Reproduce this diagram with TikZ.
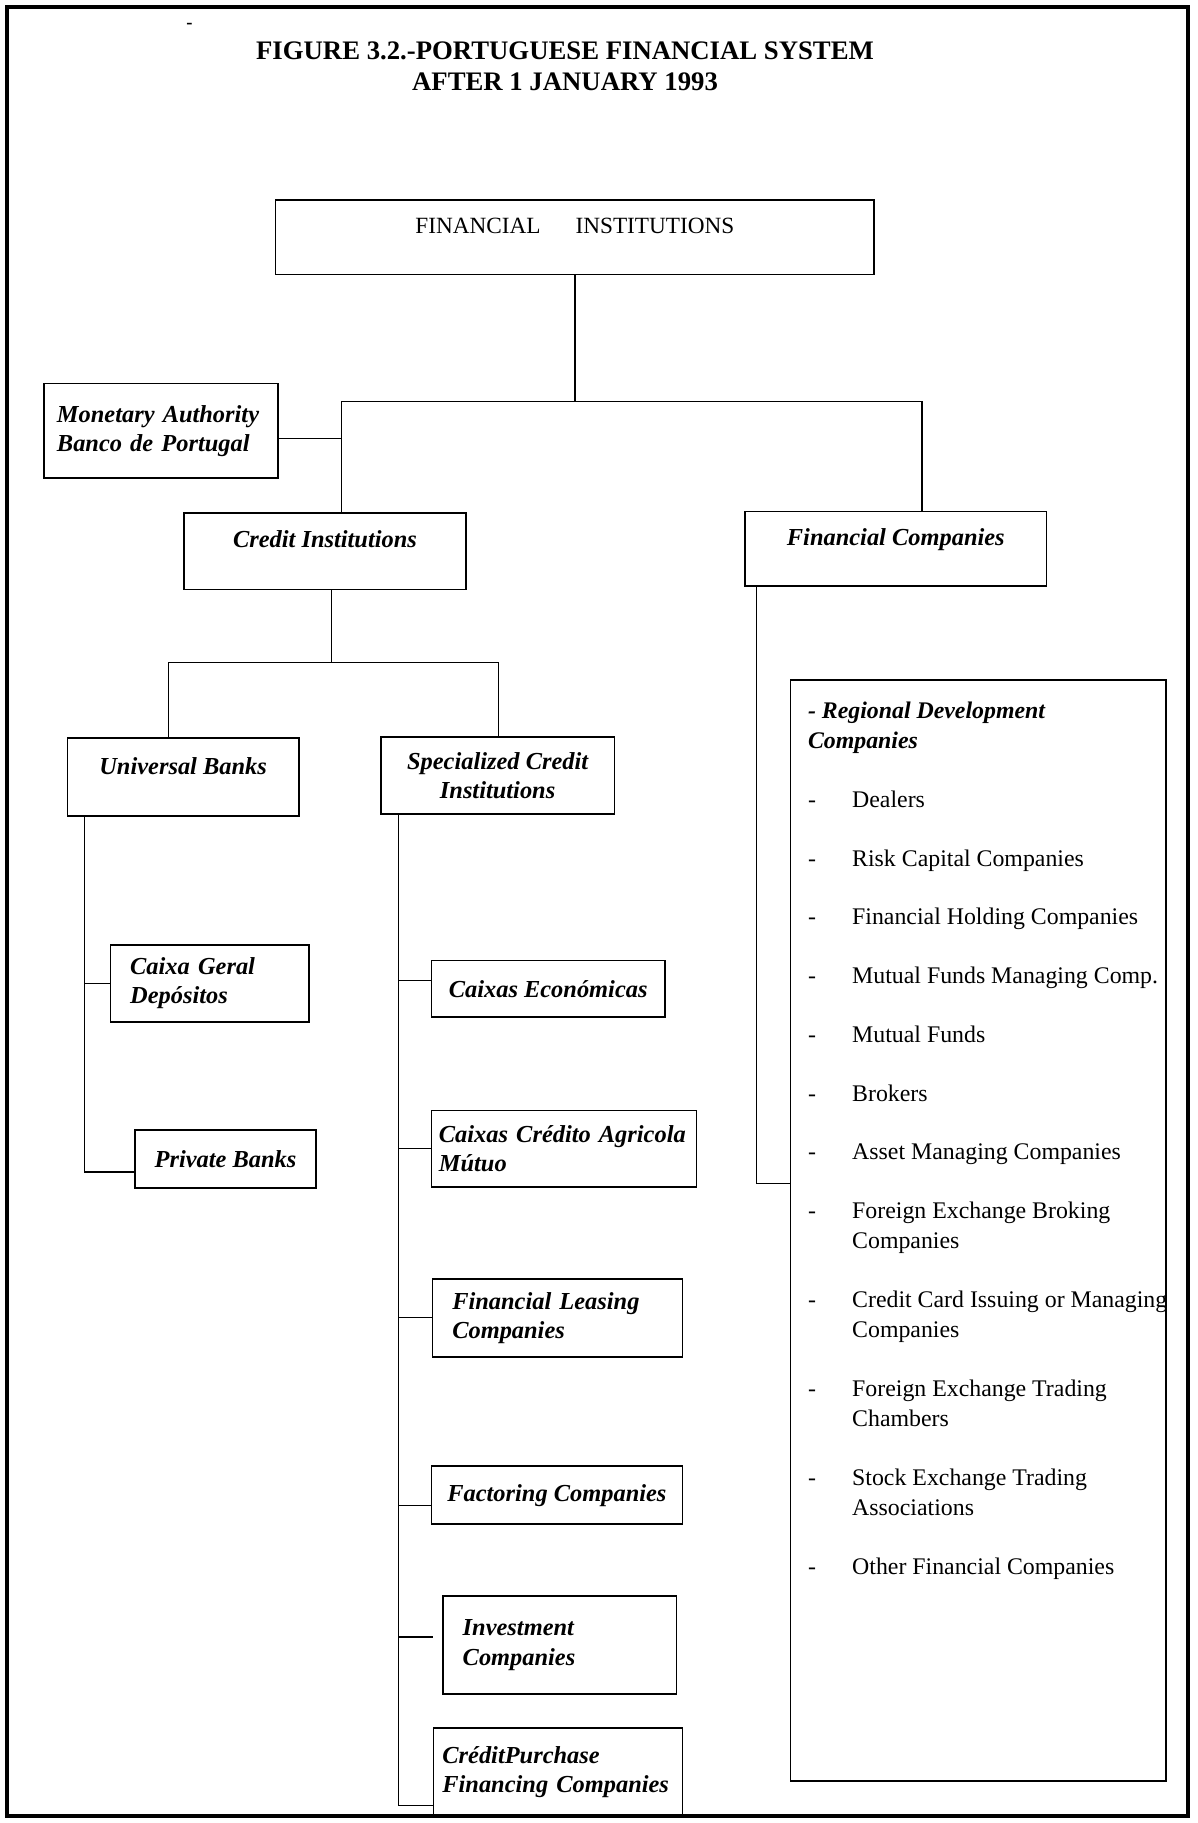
\documentclass[tikz,border=0pt]{standalone}
\usepackage{fontspec}
\setmainfont{Liberation Serif}

\begin{document}
\begin{tikzpicture}[
    x=0.5pt, y=-0.5pt,
    outer/.style={draw, line width=1.6pt},
    box/.style={draw, line width=0.7pt, inner sep=3pt, font=\fontsize{10.5}{12.5}\selectfont\bfseries\itshape},
    cbox/.style 2 args={box, align=center, minimum width=#1, minimum height=#2},
    lbox/.style n args={3}{box, align=left, text width=#1, inner xsep=#2, minimum height=#3},
    upper/.style={text depth=10pt},
    link/.style={line width=0.5pt}
]
\useasboundingbox (0,0) rectangle (1030,1568);
\draw[outer] (6,6) rectangle (1022,1562);

\node[font=\fontsize{8}{9}\selectfont\bfseries] (mark) at (163,22) {-};
\node[align=center, font=\fontsize{11.5}{13}\selectfont\bfseries] (title) at (486,57) {FIGURE 3.2.-PORTUGUESE FINANCIAL SYSTEM\\AFTER 1 JANUARY 1993};

\node[cbox={257.5pt}{32pt}, upper, font=\fontsize{10}{12}\selectfont] (fi) at (494.5,204) {FINANCIAL\hspace{1.5em}INSTITUTIONS};
\node[lbox={89.5pt}{5.5pt}{40.5pt}] (ma) at (138.5,370.5) {Monetary Authority\\Banco de Portugal};
\node[cbox={121.5pt}{33pt}, upper] (ci) at (279.5,474) {Credit Institutions};
\node[cbox={129.5pt}{32pt}, upper] (fc) at (770.5,472) {Financial Companies};

\node[cbox={99.5pt}{33.5pt}, upper] (ub) at (157.5,668.5) {Universal Banks};
\node[cbox={100.5pt}{33pt}] (sc) at (428,667) {Specialized Credit\\Institutions};

\node[lbox={68.5pt}{8.5pt}{33pt}] (cg) at (180.5,846) {Caixa Geral\\Depósitos};
\node[cbox={78pt}{25pt}] (pb) at (194,997) {Private Banks};

\node[cbox={100.5pt}{24.5pt}] (ce) at (471.5,850.5) {Caixas Económicas};
\node[lbox={107.5pt}{3.25pt}{33pt}] (ck) at (485,988) {Caixas Crédito Agricola\\Mútuo};
\node[lbox={90.5pt}{8.5pt}{33.5pt}] (fl) at (479.5,1133.5) {Financial Leasing\\Companies};
\node[cbox={108pt}{25pt}] (fa) at (479,1286) {Factoring Companies};
\node[lbox={83.5pt}{8.5pt}{42pt}] (iv) at (481.5,1415) {Investment\\Companies};
\node[lbox={99.5pt}{3.75pt}{38pt}] (cp) at (480,1524) {CréditPurchase\\Financing Companies};

\node[box, font=\fontsize{10.25}{13}\selectfont, inner xsep=7.5pt, inner ysep=7.4pt] (fclist) at (841.5,1058.5) {%
  \begin{minipage}[t][458.7pt][t]{146.5pt}
  \begin{tabular}[t]{@{}p{19pt}@{}l@{}}
  \multicolumn{2}{@{}l@{}}{\textbf{\textit{- Regional Development}}}\\
  \multicolumn{2}{@{}l@{}}{\textbf{\textit{Companies}}}\\[12.25pt]
  - & Dealers\\[12.25pt]
  - & Risk Capital Companies\\[12.25pt]
  - & Financial Holding Companies\\[12.25pt]
  - & Mutual Funds Managing Comp.\\[12.25pt]
  - & Mutual Funds\\[12.25pt]
  - & Brokers\\[12.25pt]
  - & Asset Managing Companies\\[12.25pt]
  - & Foreign Exchange Broking\\
    & Companies\\[12.25pt]
  - & Credit Card Issuing or Managing\\
    & Companies\\[12.25pt]
  - & Foreign Exchange Trading\\
    & Chambers\\[12.25pt]
  - & Stock Exchange Trading\\
    & Associations\\[12.25pt]
  - & Other Financial Companies
  \end{tabular}
  \end{minipage}};

\coordinate (fij) at (494.5,345);
\coordinate (cil) at (294,345);
\coordinate (fcr) at (793,345);
\draw[link] (fi.south) -- (fij);
\draw[link] (ci.north -| cil) -- (cil) -- (fcr) -- (fc.north -| fcr);
\draw[link] ([yshift=-3.25pt]ma.east) -- ([yshift=-3.25pt]ma.east -| cil);

\coordinate (cij) at (285,570);
\coordinate (ubj) at (145,570);
\coordinate (scj) at (429,570);
\draw[link] (ci.south -| cij) -- (cij);
\draw[link] (ub.north -| ubj) -- (ubj) -- (scj) -- (sc.north -| scj);

\coordinate (ubt) at (73,1008);
\draw[link] (ub.south -| ubt) -- (ubt) -- (ubt -| pb.west);
\draw[link] (cg.west) -- (cg.west -| ubt);

\coordinate (sct) at (343,1553);
\draw[link] (sc.south -| sct) -- (sct) -- (sct -| cp.west);
\foreach \n/\s in {ce/3.75pt, ck/0pt, fl/0pt, fa/-4.5pt}
  \draw[link] ([yshift=\s]\n.west) -- ([yshift=\s]\n.west -| sct);
\coordinate (ivend) at (372,1408);
\draw[link] (ivend) -- (ivend -| sct);

\coordinate (fcj) at (651,1018);
\draw[link] (fc.south -| fcj) -- (fcj) -- (fcj -| fclist.west);
\end{tikzpicture}
\end{document}
